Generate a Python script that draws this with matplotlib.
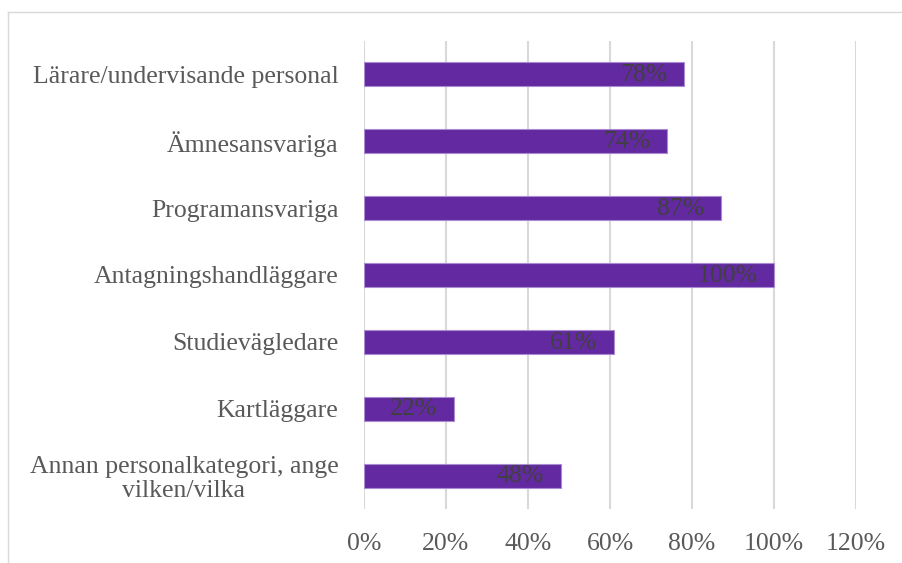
import matplotlib
matplotlib.use("Agg")
import matplotlib.pyplot as plt
from matplotlib.lines import Line2D
from matplotlib.ticker import FuncFormatter

categories = [
    "Lärare/undervisande personal",
    "Ämnesansvariga",
    "Programansvariga",
    "Antagningshandläggare",
    "Studievägledare",
    "Kartläggare",
    "Annan personalkategori, ange\nvilken/vilka",
]
values = [78, 74, 87, 100, 61, 22, 48]
xticks = [0, 20, 40, 60, 80, 100, 120]

plt.rcParams['font.family'] = ['Liberation Serif', 'DejaVu Serif']

W, H = 903, 563
fig = plt.figure(figsize=(W / 100, H / 100), dpi=100)
ax = fig.add_axes([364 / W, 1 - 509 / H, (856 - 364) / W, (509 - 41) / H])

y = list(range(len(categories)))
bars = ax.barh(y, values, height=0.36, color="#6329A0", edgecolor="#A88BD0", linewidth=0.8, zorder=3)
ax.set_ylim(len(categories) - 0.5, -0.5)
ax.set_xlim(0, 120)
ax.set_xticks(xticks)
ax.xaxis.set_major_formatter(FuncFormatter(lambda v, p: f"{int(v)}%"))
ax.set_yticks(y)
ax.set_yticklabels(categories, multialignment="center", linespacing=1.12)
ax.tick_params(axis="both", length=0, labelsize=18.5, colors="#595959")
ax.tick_params(axis="x", pad=17)
ax.tick_params(axis="y", pad=18.5)
for s in ax.spines.values():
    s.set_visible(False)
ax.grid(axis="x", color="#D9D9D9", linewidth=1.5, zorder=0)

for yi, v in zip(y, values):
    ax.annotate(f"{v}%", xy=(v, yi), xytext=(-12, -0.5), textcoords="offset points",
                ha="right", va="center", fontsize=18.5, color="#404040", zorder=4)

fig.add_artist(Line2D([8 / W, 8 / W], [0, 1 - 12 / H], transform=fig.transFigure, color="#D9D9D9", linewidth=1))
fig.add_artist(Line2D([8 / W, 1], [1 - 12 / H, 1 - 12 / H], transform=fig.transFigure, color="#D9D9D9", linewidth=1))

fig.savefig("out.png", dpi=100)
